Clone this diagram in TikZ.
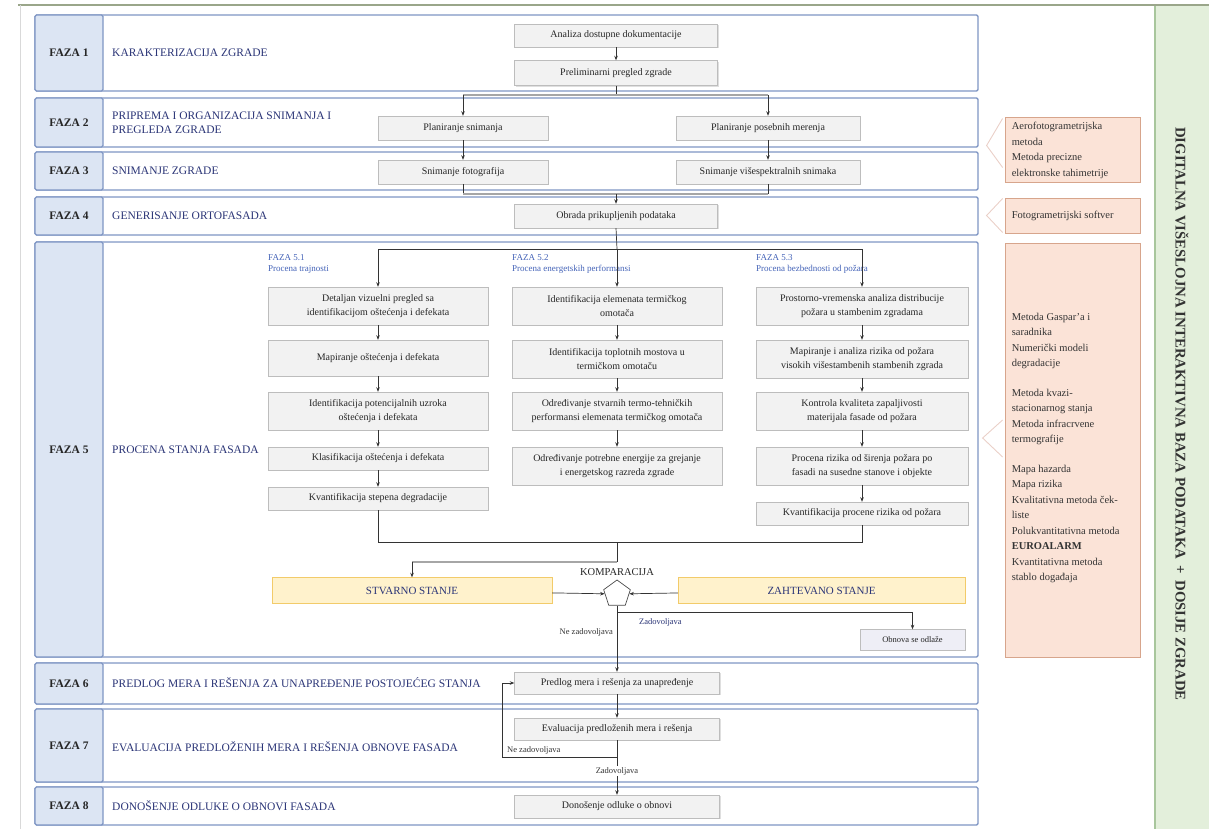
\documentclass[tikz,border=0pt]{standalone}
\usepackage{fontspec}
\setmainfont{Liberation Serif}
\usetikzlibrary{arrows.meta,shapes.geometric,calc,shadows}

\definecolor{rowline}{HTML}{7F96C4}
\definecolor{labfill}{HTML}{DCE5F3}
\definecolor{titlecol}{HTML}{2B3577}
\definecolor{hdrcol}{HTML}{4463B8}
\definecolor{boxfill}{HTML}{F2F2F2}
\definecolor{boxline}{HTML}{BDBDBD}
\definecolor{yelfill}{HTML}{FFF2CC}
\definecolor{yelline}{HTML}{F2CB6A}
\definecolor{orfill}{HTML}{FBE3D7}
\definecolor{orline}{HTML}{D7A58C}
\definecolor{chevcol}{HTML}{EAD0C8}
\definecolor{grfill}{HTML}{E3EFDB}
\definecolor{grline}{HTML}{A8C69C}
\definecolor{topline}{HTML}{9AA68A}
\definecolor{lavfill}{HTML}{EEEEF6}

\tikzset{
  rowbox/.style={draw=rowline, line width=1.4pt, fill=white, rounded corners=1.5pt,
    minimum width=943pt, inner sep=0pt},
  labcell/.style={draw=rowline, line width=1.4pt, fill=labfill, rounded corners=1.5pt,
    minimum width=68pt, inner sep=0pt, font=\fontsize{11.5}{13}\selectfont\bfseries, text=black!85},
  phtitle/.style={anchor=west, font=\fontsize{11.5}{14}\selectfont, text=titlecol,
    align=left, inner sep=0pt},
  pbox/.style={draw=boxline, fill=boxfill, align=center, inner sep=1pt,
    font=\fontsize{10}{13.5}\selectfont, text=black!85,
    drop shadow={shadow xshift=1.2pt, shadow yshift=-1.2pt, opacity=0.25}},
  hdr/.style={anchor=west, align=left, inner sep=0pt, text=hdrcol,
    font=\fontsize{9}{11}\selectfont},
  statebox/.style={draw=yelline, fill=yelfill, inner sep=1pt, text=titlecol,
    font=\fontsize{11}{13}\selectfont, minimum height=26pt},
  orbox/.style={draw=orline, fill=orfill, line width=0.8pt, minimum width=135pt,
    inner sep=0pt},
  ortext/.style={align=left, inner sep=0pt, text=black!80,
    font=\fontsize{10.5}{15.5}\selectfont},
  chev/.style={draw=chevcol, line width=0.9pt},
  conn/.style={line width=0.7pt, draw=black!80},
  arr/.style={conn, -{Stealth[length=4.5pt,width=3.5pt]}},
  greyline/.style={line width=1.6pt, draw=black!35},
  lbl/.style={font=\fontsize{8.5}{10}\selectfont, text=black!80, inner sep=1pt},
}

\begin{document}
\begin{tikzpicture}[x=1pt,y=-1pt]
\useasboundingbox (0,0) rectangle (1209,829);

% outer frame and the side panel
\draw[line width=2pt, draw=topline] (18,5) -- (1209,5);
\draw[line width=0.8pt, draw=black!15] (20,5) -- (20,829);
\path[fill=grfill] (1155,6) rectangle (1209,829);
\draw[line width=1.4pt, draw=grline] (1155,6) -- (1155,829);
\node[rotate=-90, font=\fontsize{14.8}{16}\selectfont\bfseries, text=black!80]
  (db) at (1182,414) {DIGITALNA VIŠESLOJNA INTERAKTIVNA BAZA PODATAKA \,+\, DOSIJE ZGRADE};

% phase rows
\node[rowbox, minimum height=76pt]  (r1) at (506.5,53)    {};
\node[rowbox, minimum height=49pt]  (r2) at (506.5,122.5) {};
\node[rowbox, minimum height=38pt]  (r3) at (506.5,171)   {};
\node[rowbox, minimum height=38pt]  (r4) at (506.5,216)   {};
\node[rowbox, minimum height=415pt] (r5) at (506.5,449.5) {};
\node[rowbox, minimum height=41pt]  (r6) at (506.5,683.5) {};
\node[rowbox, minimum height=73pt]  (r7) at (506.5,745.5) {};
\node[rowbox, minimum height=38pt]  (r8) at (506.5,806)   {};

\node[labcell, minimum height=76pt]  (l1) at (69,53)    {FAZA 1};
\node[labcell, minimum height=49pt]  (l2) at (69,122.5) {FAZA 2};
\node[labcell, minimum height=38pt]  (l3) at (69,171)   {FAZA 3};
\node[labcell, minimum height=38pt]  (l4) at (69,216)   {FAZA 4};
\node[labcell, minimum height=415pt] (l5) at (69,449.5) {FAZA 5};
\node[labcell, minimum height=41pt]  (l6) at (69,683.5) {FAZA 6};
\node[labcell, minimum height=73pt]  (l7) at (69,745.5) {FAZA 7};
\node[labcell, minimum height=38pt]  (l8) at (69,806)   {FAZA 8};

\node[phtitle] (t1) at (112,53)    {KARAKTERIZACIJA ZGRADE};
\node[phtitle] (t2) at (112,122.5) {PRIPREMA I ORGANIZACIJA SNIMANJA I\\PREGLEDA ZGRADE};
\node[phtitle] (t3) at (112,171)   {SNIMANJE ZGRADE};
\node[phtitle] (t4) at (112,216)   {GENERISANJE ORTOFASADA};
\node[phtitle] (t5) at (112,450)   {PROCENA STANJA FASADA};
\node[phtitle] (t6) at (112,683)   {PREDLOG MERA I REŠENJA ZA UNAPREĐENJE POSTOJEĆEG STANJA};
\node[phtitle] (t7) at (112,747)   {EVALUACIJA PREDLOŽENIH MERA I REŠENJA OBNOVE FASADA};
\node[phtitle] (t8) at (112,806)   {DONOŠENJE ODLUKE O OBNOVI FASADA};

% phases 1 to 4
\node[pbox, minimum width=203pt, minimum height=23pt] (a1) at (616,35.5) {Analiza dostupne dokumentacije};
\node[pbox, minimum width=203pt, minimum height=25pt] (a2) at (616,73)   {Preliminarni pregled zgrade};
\node[pbox, minimum width=170pt, minimum height=24pt] (b1) at (463,128)  {Planiranje snimanja};
\node[pbox, minimum width=184pt, minimum height=24pt] (b2) at (768,128)  {Planiranje posebnih merenja};
\node[pbox, minimum width=170pt, minimum height=24pt] (c1) at (463,172)  {Snimanje fotografija};
\node[pbox, minimum width=184pt, minimum height=24pt] (c2) at (768,172)  {Snimanje višespektralnih snimaka};
\node[pbox, minimum width=203pt, minimum height=24pt] (d1) at (616,216)  {Obrada prikupljenih podataka};

\draw[arr] (a1) -- (a2);
\coordinate (s1) at (616,95);
\coordinate (s1l) at (463,95);
\coordinate (s1r) at (768,95);
\draw[conn] (a2.south) -- (s1);
\draw[greyline] (s1l) -- (s1r);
\draw[arr] (s1l) -- (b1.north);
\draw[arr] (s1r) -- (b2.north);
\draw[arr] (b1) -- (c1);
\draw[arr] (b2) -- (c2);
\coordinate (s2l) at (463,194);
\coordinate (s2r) at (768,194);
\coordinate (s2) at (616,194);
\draw[conn] (c1.south) -- (s2l);
\draw[conn] (c2.south) -- (s2r);
\draw[greyline] (s2l) -- (s2r);
\draw[arr] (s2) -- (d1.north);

% phase 5: three assessment columns
\node[hdr] (h1) at (268,264) {FAZA 5.1\\Procena trajnosti};
\node[hdr] (h2) at (512,264) {FAZA 5.2\\Procena energetskih performansi};
\node[hdr] (h3) at (756,264) {FAZA 5.3\\Procena bezbednosti od požara};

\node[pbox, minimum width=220pt, minimum height=38pt] (e11) at (378,306)   {Detaljan vizuelni pregled sa\\identifikacijom oštećenja i defekata};
\node[pbox, minimum width=220pt, minimum height=36pt] (e12) at (378,358)   {Mapiranje oštećenja i defekata};
\node[pbox, minimum width=220pt, minimum height=38pt] (e13) at (378,411)   {Identifikacija potencijalnih uzroka\\oštećenja i defekata};
\node[pbox, minimum width=220pt, minimum height=23pt] (e14) at (378,458.5) {Klasifikacija oštećenja i defekata};
\node[pbox, minimum width=220pt, minimum height=23pt] (e15) at (378,498.5) {Kvantifikacija stepena degradacije};

\node[pbox, minimum width=210pt, minimum height=38pt] (e21) at (617,306) {Identifikacija elemenata termičkog\\omotača};
\node[pbox, minimum width=210pt, minimum height=38pt] (e22) at (617,359) {Identifikacija toplotnih mostova u\\termičkom omotaču};
\node[pbox, minimum width=210pt, minimum height=38pt] (e23) at (617,411) {Određivanje stvarnih termo-tehničkih\\performansi elemenata termičkog omotača};
\node[pbox, minimum width=210pt, minimum height=38pt] (e24) at (617,466) {Određivanje potrebne energije za grejanje\\i energetskog razreda zgrade};

\node[pbox, minimum width=212pt, minimum height=38pt] (e31) at (862,306)   {Prostorno-vremenska analiza distribucije\\požara u stambenim zgradama};
\node[pbox, minimum width=212pt, minimum height=38pt] (e32) at (862,359)   {Mapiranje i analiza rizika od požara\\visokih višestambenih stambenih zgrada};
\node[pbox, minimum width=212pt, minimum height=38pt] (e33) at (862,411)   {Kontrola kvaliteta zapaljivosti\\materijala fasade od požara};
\node[pbox, minimum width=212pt, minimum height=38pt] (e34) at (862,466)   {Procena rizika od širenja požara po\\fasadi na susedne stanove i objekte};
\node[pbox, minimum width=212pt, minimum height=23pt] (e35) at (862,513.5) {Kvantifikacija procene rizika od požara};

\coordinate (s3) at (617,249);
\coordinate (s3l) at (378,249);
\coordinate (s3r) at (862,249);
\draw[conn] (d1.south) -- (s3);
\draw[conn] (s3l) -- (s3r);
\draw[arr] (s3l) -- (e11.north);
\draw[arr] (s3) -- (e21.north);
\draw[arr] (s3r) -- (e31.north);

\draw[arr] (e11) -- (e12);
\draw[arr] (e12) -- (e13);
\draw[arr] (e13) -- (e14);
\draw[arr] (e14) -- (e15);
\draw[arr] (e21) -- (e22);
\draw[arr] (e22) -- (e23);
\draw[arr] (e23) -- (e24);
\draw[arr] (e31) -- (e32);
\draw[arr] (e32) -- (e33);
\draw[arr] (e33) -- (e34);
\draw[arr] (e34) -- (e35);

% joining the results and the comparison
\coordinate (s4l) at (378,542);
\coordinate (s4r) at (862,542);
\coordinate (s4) at (617,542);
\coordinate (s5) at (617,562);
\coordinate (s5l) at (412,562);
\draw[conn] (e15.south) -- (s4l) -- (s4r) -- (e35.south);
\draw[conn] (s4) -- (s5);
\draw[greyline] (s5) -- (s5l);

\node[statebox, minimum width=280pt] (stv) at (412,590.5)   {STVARNO STANJE};
\node[statebox, minimum width=287pt] (zah) at (821.5,590.5) {ZAHTEVANO STANJE};
\node[draw=black!70, line width=0.7pt, fill=white, regular polygon, regular polygon sides=5,
  minimum size=28pt, inner sep=0pt] (komp) at (617,594) {};
\node[font=\fontsize{10.5}{12}\selectfont, text=black!85, inner sep=0pt] (kompl) at (617,572) {KOMPARACIJA};

\draw[arr] (s5l) -- (stv.north);
\draw[arr] (stv) -- (komp);
\draw[arr] (zah) -- (komp);

\node[draw=boxline, fill=lavfill, minimum width=105pt, minimum height=21pt, inner sep=1pt,
  font=\fontsize{8.5}{10}\selectfont, text=black!85] (obn) at (912.5,640) {Obnova se odlaže};
\coordinate (s6) at (617,612);
\coordinate (s6r) at (912.5,612);
\draw[conn] (s6) -- (s6r);
\draw[arr] (s6r) -- (obn.north);
\node[lbl, anchor=west, text=titlecol] (zd1) at (638,622) {Zadovoljava};
\node[lbl, anchor=east] (nz1) at (614,632) {Ne zadovoljava};

% phases 6 to 8
\node[pbox, minimum width=205pt, minimum height=22pt] (f1) at (617,683)   {Predlog mera i rešenja za unapređenje};
\node[pbox, minimum width=205pt, minimum height=22pt] (g1) at (617,729)   {Evaluacija predloženih mera i rešenja};
\node[pbox, minimum width=205pt, minimum height=23pt] (k1) at (617,806.5) {Donošenje odluke o obnovi};

\draw[arr] (komp.south) -- (f1.north);
\draw[arr] (f1) -- (g1);
\coordinate (s7) at (617,757);
\coordinate (s7l) at (502,757);
\coordinate (s7u) at (502,683);
\draw[conn] (g1.south) -- (s7);
\draw[conn] (s7) -- (s7l) -- (s7u);
\draw[arr] (s7u) -- (f1.west);
\draw[arr] (s7) -- (k1.north);
\node[lbl, anchor=south west] (nz2) at (506,756) {Ne zadovoljava};
\node[lbl, fill=white] (zd2) at (617,771) {Zadovoljava};

% methods and tools on the right
\node[orbox, minimum height=65pt] (o1) at (1072.5,149.5) {};
\node[ortext, anchor=west] (o1t) at ($(o1.west)+(7,1)$)
  {Aerofotogrametrijska\\metoda\\Metoda precizne\\elektronske tahimetrije};
\node[orbox, minimum height=35pt] (o2) at (1072.5,215.5) {};
\node[ortext, anchor=west] (o2t) at ($(o2.west)+(7,0)$) {Fotogrametrijski softver};
\node[orbox, minimum height=414pt] (o3) at (1072.5,450) {};
\node[ortext, anchor=north west] (o3t) at ($(o3.north west)+(7,70)$)
  {Metoda Gaspar'a i\\saradnika\\Numerički modeli\\degradacije\\[14pt]
   Metoda kvazi-\\stacionarnog stanja\\Metoda infracrvene\\termografije\\[14pt]
   Mapa hazarda\\Mapa rizika\\Kvalitativna metoda ček-\\liste\\
   Polukvantitativna metoda\\\textbf{EUROALARM}\\Kvantitativna metoda\\stablo događaja};

\draw[chev] ($(o1.west)+(-2,-31)$) -- ($(o1.west)+(-18,-4)$) -- ($(o1.west)+(-2,18)$);
\draw[chev] ($(o2.west)+(-2,-17)$) -- ($(o2.west)+(-18,0)$) -- ($(o2.west)+(-2,17)$);
\draw[chev] ($(o3.west)+(-2,-30)$) -- ($(o3.west)+(-22,-12)$) -- ($(o3.west)+(-2,7)$);

\end{tikzpicture}
\end{document}
